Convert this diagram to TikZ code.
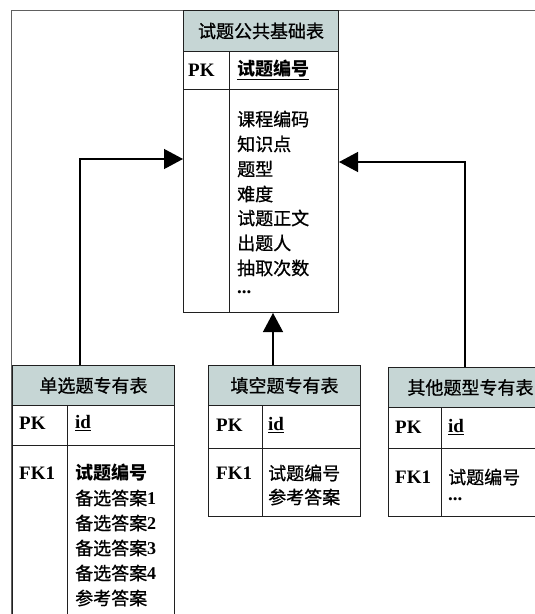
\documentclass[tikz,border=0pt]{standalone}
\usepackage{fontspec}
\setmainfont{Liberation Serif}
\newfontfamily\cjk[FakeBold=0.8]{Noto Sans CJK SC}
\newfontfamily\cjkheavy{Noto Sans CJK SC}
\usetikzlibrary{arrows.meta}
\definecolor{hdrfill}{HTML}{C6D6D5}
\definecolor{framegray}{HTML}{606060}
\definecolor{linec}{HTML}{202020}
\tikzset{
  hdr/.style={draw=linec, line width=1pt, fill=hdrfill, anchor=north west, inner sep=0pt, font=\cjk\fontsize{18}{20}\selectfont},
  cell/.style={draw=linec, line width=1pt, anchor=north west, inner sep=0pt},
  kw/.style={anchor=west, inner sep=0pt, font=\bfseries\fontsize{19}{21}\selectfont},
  txt/.style={anchor=west, inner sep=0pt, font=\cjk\fontsize{18}{20}\selectfont},
  heavy/.style={anchor=west, inner sep=0pt, font=\cjkheavy\bfseries\fontsize{18}{20}\selectfont},
  arr/.style={draw=black, line width=1.3pt, -{Triangle[length=19pt,width=20pt]}},
  divline/.style={draw=linec, line width=1pt}
}
\begin{document}
\begin{tikzpicture}[x=1pt,y=-1pt]
\useasboundingbox (0,0) rectangle (535,614);
% outer frame
\draw[framegray, line width=1pt] (11,620) -- (11,10) -- (545,10);

% main table
\node[hdr, minimum width=155pt, minimum height=41pt] (mainH) at (183,10) {试题公共基础表};
\node[cell, minimum width=155pt, minimum height=38pt] (mainPK) at (183,51) {};
\node[cell, minimum width=155pt, minimum height=223pt] (mainB) at (183,89) {};
\draw[divline] ([xshift=46pt]mainPK.north west) -- ([xshift=46pt]mainB.south west);
\node[kw] (mainPKl) at (188,70) {PK};
\node[heavy] (mainPKv) at (237,70) {\underline{试题编号}};
\node[txt] (m1) at (237,119) {课程编码};
\node[txt] (m2) at (237,144) {知识点};
\node[txt] (m3) at (237,169) {题型};
\node[txt] (m4) at (237,194) {难度};
\node[txt] (m5) at (237,218) {试题正文};
\node[txt] (m6) at (237,243) {出题人};
\node[txt] (m7) at (237,268) {抽取次数};
\node[kw] (m8) at (237,292) {...};

% left table
\node[hdr, minimum width=162pt, minimum height=40pt] (lH) at (12,365) {单选题专有表};
\node[cell, minimum width=162pt, minimum height=40pt] (lPK) at (12,405) {};
\node[cell, minimum width=162pt, minimum height=180pt] (lB) at (12,445) {};
\draw[divline] ([xshift=55pt]lPK.north west) -- ([xshift=55pt]lB.south west);
\node[kw] (lPKl) at (19,423) {PK};
\node[kw] (lPKv) at (75,423) {\underline{id}};
\node[kw] (lFK) at (19,473) {FK1};
\node[heavy] (l1) at (75,473) {试题编号};
\node[txt] (l2) at (75,498) {备选答案{\rmfamily\bfseries 1}};
\node[txt] (l3) at (75,523) {备选答案{\rmfamily\bfseries 2}};
\node[txt] (l4) at (75,548) {备选答案{\rmfamily\bfseries 3}};
\node[txt] (l5) at (75,573) {备选答案{\rmfamily\bfseries 4}};
\node[txt] (l6) at (75,598) {参考答案};

% middle table
\node[hdr, minimum width=152pt, minimum height=40pt] (cH) at (208,365) {填空题专有表};
\node[cell, minimum width=152pt, minimum height=43pt] (cPK) at (208,405) {};
\node[cell, minimum width=152pt, minimum height=68pt] (cB) at (208,448) {};
\draw[divline] ([xshift=54pt]cPK.north west) -- ([xshift=54pt]cB.south west);
\node[kw] (cPKl) at (216,425) {PK};
\node[kw] (cPKv) at (268,425) {\underline{id}};
\node[kw] (cFK) at (216,473) {FK1};
\node[txt] (c1) at (268,473) {试题编号};
\node[txt] (c2) at (268,497) {参考答案};

% right table
\node[hdr, minimum width=170pt, minimum height=40pt, text width=150pt, align=left] (rH) at (388,367) {\hspace*{9pt}其他题型专有表};
\node[cell, minimum width=170pt, minimum height=41pt] (rPK) at (388,407) {};
\node[cell, minimum width=170pt, minimum height=68pt] (rB) at (388,448) {};
\draw[divline] ([xshift=53pt]rPK.north west) -- ([xshift=53pt]rB.south west);
\node[kw] (rPKl) at (395,427) {PK};
\node[kw] (rPKv) at (448,427) {\underline{id}};
\node[kw] (rFK) at (395,477) {FK1};
\node[txt] (r1) at (448,477) {试题编号};
\node[kw] (r2) at (448,499) {...};

% connectors
\draw[arr] ([xshift=68pt]lH.north west) |- (mainB.west |- 0,159);
\draw[arr] ([xshift=77pt]rH.north west) |- (mainB.east |- 0,162);
\draw[arr] ([xshift=65pt]cH.north west) -- ([xshift=65pt]cH.north west |- mainB.south);
\end{tikzpicture}
\end{document}
